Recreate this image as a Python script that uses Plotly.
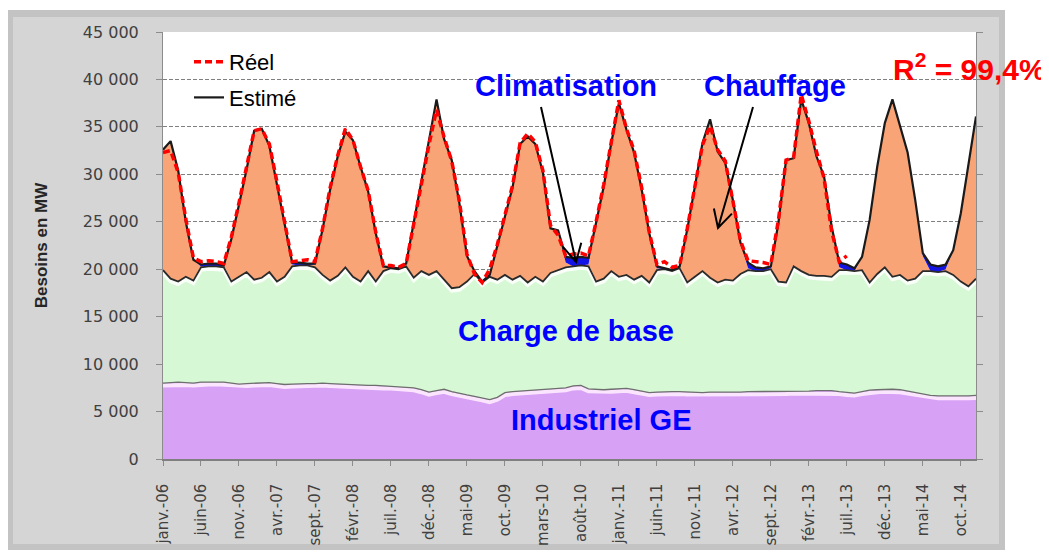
import math
import plotly.graph_objects as go

# ---------------- data ----------------
mois = ["janv.", "févr.", "mars", "avr.", "mai", "juin", "juil.", "août", "sept.", "oct.", "nov.", "déc."]
annees = ["06", "07", "08", "09", "10", "11", "12", "13", "14"]
labels = [f"{m}-{a}" for a in annees for m in mois]

# Besoins estimés (total, MW)
estime = [32600, 33500, 30400, 25000, 21000, 20500, 20600, 20600, 20400, 23200, 26800, 30500,
          34600, 34800, 33000, 29000, 24800, 20700, 20700, 20600, 20600, 24200, 28400, 31900,
          34500, 33600, 30800, 28200, 23800, 20300, 20200, 20100, 20600, 24900, 29100, 33300,
          37900, 33700, 31500, 27000, 21400, 19800, 18700, 19400, 22400, 25600, 28600, 33200,
          34000, 33200, 30200, 24300, 24100, 21300, 21200, 21300, 21200, 24900, 28700, 33300,
          37500, 34700, 32300, 28400, 23800, 20300, 20100, 19900, 20300, 24200, 28700, 33300,
          35800, 32400, 31200, 27300, 22800, 20700, 20200, 20100, 20300, 24900, 31500, 31700,
          37900, 35400, 31900, 29800, 24500, 20700, 20500, 20100, 21300, 25200, 30800, 35400,
          37900, 35100, 32300, 27300, 21700, 20500, 20300, 20500, 22000, 25900, 31200, 36100]

# Besoins réels (MW), janv.-06 -> juil.-13
reel = [32300, 32500, 30200, 25300, 21200, 20800, 20900, 20800, 20600, 23400, 27000, 30600,
        34600, 34800, 33200, 29200, 24900, 20800, 20900, 21000, 20800, 24300, 28600, 32000,
        34800, 33600, 30800, 28300, 23900, 20400, 20400, 20200, 20600, 24800, 29000, 33100,
        36800, 33900, 31400, 27200, 21600, 19500, 18600, 20000, 22600, 25800, 28800, 33300,
        34300, 33400, 30400, 24600, 23600, 21400, 21600, 21700, 21400, 25000, 28900, 33400,
        37800, 34800, 32500, 28600, 23900, 20500, 20800, 20200, 20400, 24300, 28600, 33100,
        35100, 32600, 31400, 27400, 23000, 20900, 20800, 20700, 20500, 25200, 31500, 31800,
        38400, 35600, 32400, 29600, 24000, 20800, 21400]

# Industriel GE (MW)
industriel = [8000, 8050, 8100, 8050, 8000, 8100, 8100, 8150, 8100, 8000, 7900, 7950,
              8000, 8050, 8050, 7950, 7850, 7900, 7950, 7950, 7950, 8000, 7950, 7900,
              7850, 7850, 7800, 7750, 7750, 7700, 7700, 7650, 7600, 7500, 7300, 7050,
              7200, 7350, 7100, 6900, 6750, 6600, 6450, 6250, 6500, 7000, 7100, 7150,
              7250, 7300, 7300, 7350, 7400, 7500, 7700, 7750, 7400, 7350, 7300, 7350,
              7400, 7450, 7300, 7150, 7000, 7050, 7100, 7100, 7100, 7050, 7050, 7000,
              7050, 7050, 7050, 7000, 7050, 7100, 7100, 7100, 7100, 7100, 7100, 7150,
              7150, 7150, 7200, 7200, 7200, 7100, 7000, 6950, 7100, 7250, 7300, 7350,
              7350, 7300, 7150, 7000, 6850, 6700, 6650, 6650, 6600, 6650, 6650, 6700]

# Industriel GE + Charge de base (MW, haut de la zone verte)
base_top = [19900, 19000, 18700, 19200, 18800, 20200, 20300, 20300, 20200, 18700, 19200, 19700,
            18900, 19100, 19700, 18700, 19200, 20300, 20400, 20400, 20200, 19400, 18800, 19300,
            20200, 19200, 18700, 19800, 18700, 19800, 20100, 20000, 20300, 19100, 19800, 19400,
            19800, 18900, 18000, 18100, 18700, 19500, 18600, 19200, 18900, 19400, 18900, 19300,
            18600, 19200, 18700, 19600, 19900, 20200, 20300, 20400, 20300, 18700, 19000, 19800,
            19200, 19400, 18900, 19300, 18600, 19900, 20000, 19800, 20100, 18600, 19200, 19800,
            19100, 18600, 18900, 18800, 19500, 19900, 19800, 19800, 20000, 18700, 18600, 20300,
            19800, 19400, 19300, 19300, 19200, 19900, 19900, 19800, 19900, 18600, 19500, 20200,
            19200, 19400, 18800, 19000, 19800, 19800, 19700, 19800, 19400, 18700, 18200, 19000]

# Climatisation (MW)
climatisation = [0, 0, 0, 0, 0, 200, 300, 300, 100, 0, 0, 0,
                 0, 0, 0, 0, 0, 200, 300, 200, 100, 0, 0, 0,
                 0, 0, 0, 0, 0, 0, 100, 100, 0, 0, 0, 0,
                 0, 0, 0, 0, 0, 0, 100, 200, 0, 0, 0, 0,
                 0, 0, 0, 0, 0, 600, 900, 900, 700, 0, 0, 0,
                 0, 0, 0, 0, 0, 200, 100, 100, 0, 0, 0, 0,
                 0, 0, 0, 0, 0, 600, 400, 300, 200, 0, 0, 0,
                 0, 0, 0, 0, 0, 500, 600, 300, 0, 0, 0, 0,
                 0, 0, 0, 0, 300, 700, 600, 500, 0, 0, 0, 0]

# top of the heating (chauffage) layer = estimated total minus air conditioning
chauffage_top = [max(e - c, b) for e, c, b in zip(estime, climatisation, base_top)]

# ---------------- geometry (screen pixels; page body has an 8px margin) ----------------
SCR_W, SCR_H, BODY = 1049, 552, 8
W, H = SCR_W - BODY, SCR_H - BODY
PL, PR, PT, PB = 163, 976, 32, 459   # plot area on screen


def px(x):
    return (x - PL) / (PR - PL)


def py(y):
    return (PB - y) / (PB - PT)


def arrow_path(x0, y0, x1, y1, head=20, ang=28):
    dx, dy = x1 - x0, y1 - y0
    L = math.hypot(dx, dy)
    bx, by = -dx / L, -dy / L
    a = math.radians(ang)
    w1 = (x1 + head * (bx * math.cos(a) - by * math.sin(a)), y1 + head * (bx * math.sin(a) + by * math.cos(a)))
    w2 = (x1 + head * (bx * math.cos(a) + by * math.sin(a)), y1 + head * (-bx * math.sin(a) + by * math.cos(a)))
    return (f"M {px(x0)} {py(y0)} L {px(x1)} {py(y1)} "
            f"M {px(w1[0])} {py(w1[1])} L {px(x1)} {py(y1)} L {px(w2[0])} {py(w2[1])}")


# ---------------- colours ----------------
C_PURPLE = "#D7A1F6"
C_GREEN = "#D6F8D4"
C_ORANGE = "#F8A476"
C_BLUE = "#1414E6"

fig = go.Figure()
common = dict(x=labels, mode="lines", hoverinfo="skip", showlegend=False)

fig.add_trace(go.Scatter(y=industriel, fill="tozeroy", fillcolor=C_PURPLE,
                         line=dict(width=0, color=C_PURPLE), name="Industriel GE", **common))
fig.add_trace(go.Scatter(y=base_top, fill="tonexty", fillcolor=C_GREEN,
                         line=dict(width=0, color=C_GREEN), name="Charge de base", **common))
fig.add_trace(go.Scatter(y=chauffage_top, fill="tonexty", fillcolor=C_ORANGE,
                         line=dict(width=0, color=C_ORANGE), name="Chauffage", **common))
fig.add_trace(go.Scatter(y=estime, fill="tonexty", fillcolor=C_BLUE,
                         line=dict(width=0, color=C_BLUE), name="Climatisation", **common))

# soft highlights under the edges
fig.add_trace(go.Scatter(y=[b - 260 for b in base_top],
                         line=dict(width=4, color="rgba(255,255,255,0.85)"), **common))
fig.add_trace(go.Scatter(y=[v - 260 for v in industriel],
                         line=dict(width=4, color="rgba(255,236,255,0.9)"), **common))
# outlines
fig.add_trace(go.Scatter(y=industriel, line=dict(width=1.3, color="#6E6E6E"), **common))
fig.add_trace(go.Scatter(y=base_top, line=dict(width=1.8, color="#2A2A2A"), **common))

fig.add_trace(go.Scatter(x=labels, y=estime, mode="lines", name="Estimé", legendrank=2,
                         legendgroup="e", line=dict(width=2.2, color="#1A1A1A"), hoverinfo="skip"))
fig.add_trace(go.Scatter(x=labels[:len(reel)], y=reel, mode="lines", name="Réel", legendrank=1,
                         legendgroup="r", line=dict(width=3.5, color="#FF0000", dash="7px,4px"),
                         hoverinfo="skip"))

TXT = "Liberation Sans"
annos = [
    dict(text="Climatisation", x=px(566), y=py(86), color="#0000FF", size=29),
    dict(text="Chauffage", x=px(775), y=py(86), color="#0000FF", size=29),
    dict(text="Charge de base", x=px(566), y=py(331), color="#0000FF", size=29),
    dict(text="Industriel GE", x=px(601), y=py(420), color="#0000FF", size=29),
    dict(text="R<sup>2</sup> = 99,4%", x=px(969), y=py(67), color="#FF0000", size=30),
]
annotations = [dict(text=a["text"], x=a["x"], y=a["y"], xref="paper", yref="paper",
                    xanchor="center", yanchor="middle", showarrow=False,
                    font=dict(family=TXT, size=a["size"], color=a["color"], weight="bold"))
               for a in annos]

shapes = [
    dict(type="rect", xref="paper", yref="paper", x0=px(7), x1=px(1005), y0=py(550), y1=py(10),
         fillcolor="#C3C3C3", line=dict(width=0), layer="below"),
    dict(type="rect", xref="paper", yref="paper", x0=px(13), x1=px(999), y0=py(544), y1=py(17),
         fillcolor="#D5D5D5", line=dict(width=0), layer="below"),
    dict(type="rect", xref="paper", yref="paper", x0=0, x1=1, y0=0, y1=1,
         fillcolor="white", line=dict(width=0), layer="below"),
    dict(type="path", xref="paper", yref="paper", path=arrow_path(541, 107, 576, 262),
         line=dict(color="black", width=2)),
    dict(type="path", xref="paper", yref="paper", path=arrow_path(753, 107, 718, 228),
         line=dict(color="black", width=2)),
]

fig.update_layout(
    width=W, height=H,
    margin=dict(l=PL - BODY, r=SCR_W - PR, t=PT - BODY, b=SCR_H - PB, autoexpand=False),
    paper_bgcolor="white", plot_bgcolor="white",
    separators=", ",
    showlegend=True,
    legend=dict(x=px(189), y=py(41), xanchor="left", yanchor="top",
                bgcolor="rgba(0,0,0,0)", font=dict(family=TXT, size=22, color="black"),
                traceorder="grouped", tracegroupgap=4, itemwidth=30),
    annotations=annotations,
    shapes=shapes,
    xaxis=dict(type="category", range=[0, len(labels) - 1], showgrid=False, automargin=False,
               tickmode="array", tickvals=labels[::5], ticktext=labels[::5],
               tickangle=-90, ticks="outside", ticklen=5, tickcolor="#8C8C8C",
               ticklabelstandoff=12,
               showline=True, linecolor="#7F7F7F", linewidth=1.5,
               tickfont=dict(family="DejaVu Sans", size=15, color="#404040")),
    yaxis=dict(range=[0, 45000], dtick=5000, tickformat=",.0f", automargin=False,
               showgrid=True, gridcolor="#7F7F7F", griddash="4px,2px", gridwidth=1,
               zeroline=False, showline=True, linecolor="#8C8C8C", mirror="ticks",
               ticks="outside", ticklen=6, tickcolor="#8C8C8C", ticklabelstandoff=14,
               tickfont=dict(family="DejaVu Sans", size=16, color="#404040"),
               title=dict(text="Besoins en MW", standoff=30,
                          font=dict(family=TXT, size=17, color="#262626", weight="bold"))),
)

fig.write_html("out.html")
